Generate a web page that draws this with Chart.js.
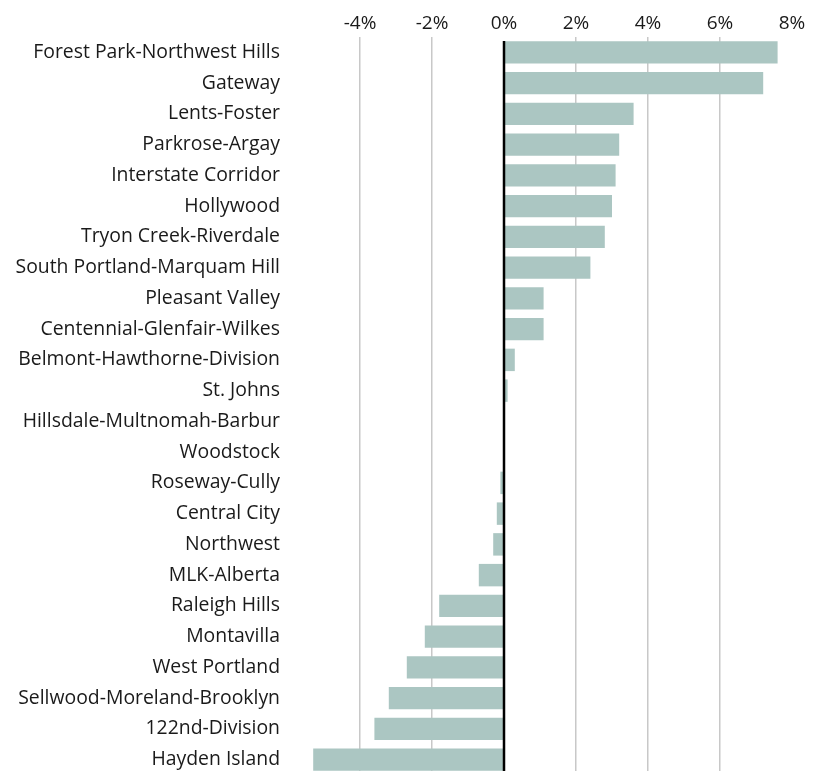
<!DOCTYPE html>
<html>
<head>
<meta charset="utf-8">
<script src="https://cdn.jsdelivr.net/npm/chart.js@4.4.1/dist/chart.umd.min.js"></script>
<style>
  html, body { margin: 0; padding: 0; background: #fff; overflow: hidden; }
  #wrap { position: relative; width: 822px; height: 775px; }
</style>
</head>
<body>
<div id="wrap"><canvas id="c" width="822" height="775"></canvas></div>
<script>
const categories = [
  "Forest Park-Northwest Hills", "Gateway", "Lents-Foster", "Parkrose-Argay",
  "Interstate Corridor", "Hollywood", "Tryon Creek-Riverdale", "South Portland-Marquam Hill",
  "Pleasant Valley", "Centennial-Glenfair-Wilkes", "Belmont-Hawthorne-Division", "St. Johns",
  "Hillsdale-Multnomah-Barbur", "Woodstock", "Roseway-Cully", "Central City",
  "Northwest", "MLK-Alberta", "Raleigh Hills", "Montavilla",
  "West Portland", "Sellwood-Moreland-Brooklyn", "122nd-Division", "Hayden Island"
];
const changePct = [
  7.6, 7.2, 3.6, 3.2,
  3.1, 3.0, 2.8, 2.4,
  1.1, 1.1, 0.3, 0.1,
  0, 0, -0.1, -0.2,
  -0.3, -0.7, -1.8, -2.2,
  -2.7, -3.2, -3.6, -5.3
];
const tickValues = [-4, -2, 0, 2, 4, 6, 8];

const FONT = "'Open Sans', 'Liberation Sans', sans-serif";

const zeroLine = {
  id: 'zeroLine',
  afterDatasetsDraw(chart) {
    const x = chart.scales.x;
    const px = x.getPixelForValue(0);
    const ctx = chart.ctx;
    ctx.save();
    ctx.strokeStyle = '#000';
    ctx.lineWidth = 2.5;
    ctx.beginPath();
    ctx.moveTo(px, chart.chartArea.top + 4);
    ctx.lineTo(px, chart.chartArea.bottom);
    ctx.stroke();
    ctx.restore();
  }
};

new Chart(document.getElementById('c'), {
  type: 'bar',
  data: {
    labels: categories,
    datasets: [{
      data: changePct,
      backgroundColor: '#abc6c2',
      borderWidth: 0,
      categoryPercentage: 1,
      barPercentage: 0.73
    }]
  },
  options: {
    indexAxis: 'y',
    responsive: false,
    animation: false,
    layout: { padding: { left: 0, right: 30, top: 0, bottom: 0 } },
    plugins: { legend: { display: false }, tooltip: { enabled: false } },
    scales: {
      x: {
        position: 'top',
        min: -6,
        max: 8,
        afterBuildTicks(scale) {
          scale.ticks = tickValues.map(v => ({ value: v }));
        },
        afterFit(scale) { scale.height = 37; },
        border: { display: false },
        grid: {
          drawTicks: false,
          lineWidth: 1.5,
          color: ctx => (ctx.tick && (ctx.tick.value === 0 || ctx.tick.value === 8)) ? 'rgba(0,0,0,0)' : '#c8c8c8'
        },
        ticks: {
          padding: 2,
          color: '#1a1a1a',
          font: { family: FONT, size: 19 },
          callback: v => v + '%'
        }
      },
      y: {
        afterFit(scale) {
          scale.width = 288;
          scale.paddingTop = 0;
          scale.paddingBottom = 0;
        },
        border: { display: false },
        grid: { display: false, drawTicks: false },
        ticks: {
          padding: 8,
          color: '#1a1a1a',
          autoSkip: false,
          font: { family: FONT, size: 19.4 }
        }
      }
    }
  },
  plugins: [zeroLine]
});
</script>
</body>
</html>
